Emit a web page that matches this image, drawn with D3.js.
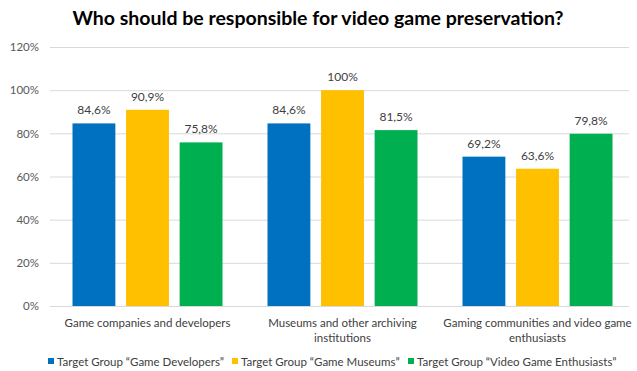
<!DOCTYPE html>
<html>
<head>
<meta charset="utf-8">
<script src="https://cdn.jsdelivr.net/npm/d3@7"></script>
<style>
  body { margin: 0; background: #fff; }
  svg { display: block; font-family: Lato, "Liberation Sans", sans-serif; }
</style>
</head>
<body>
<svg id="chart" width="637" height="371"></svg>
<script>
// Responsibility categories (x axis groups)
const categories = [
  ["Game companies and developers"],
  ["Museums and other archiving", "institutions"],
  ["Gaming communities and video game", "enthusiasts"]
];
// Respondent groups (series)
const seriesNames = [
  "Target Group \u201cGame Developers\u201d",
  "Target Group \u201cGame Museums\u201d",
  "Target Group \u201cVideo Game Enthusiasts\u201d"
];
const seriesColors = ["#0070C0", "#FFC000", "#00B050"];
// Share of respondents per category, one array per series
const developers = [84.6, 84.6, 69.2];
const museums = [90.9, 100, 63.6];
const enthusiasts = [75.8, 81.5, 79.8];
const values = [developers, museums, enthusiasts];
const yTicks = [0, 20, 40, 60, 80, 100, 120];

const svg = d3.select("#chart");
const plot = { left: 50, right: 635, top: 47, bottom: 306 };

const x0 = d3.scaleBand().domain(d3.range(categories.length))
  .range([plot.left, plot.right]).paddingInner(0).paddingOuter(0);
const x1 = d3.scaleBand().domain(d3.range(seriesNames.length))
  .range([0, x0.bandwidth()]).paddingInner(0.2).paddingOuter(0.42);
const y = d3.scaleLinear().domain([0, 120]).range([plot.bottom, plot.top]);

// Title
svg.append("text")
  .attr("x", 318).attr("y", 25)
  .attr("text-anchor", "middle")
  .attr("font-size", 19.5).attr("font-weight", "bold").attr("fill", "#000")
  .text("Who should be responsible for video game preservation?");

// Gridlines
svg.append("g").selectAll("line").data(yTicks).join("line")
  .attr("x1", plot.left).attr("x2", plot.right - 6)
  .attr("y1", d => y(d) + 0.5).attr("y2", d => y(d) + 0.5)
  .attr("stroke", "#D9D9D9").attr("stroke-width", 1);

// Y axis labels
const yAxis = d3.axisLeft(y).tickValues(yTicks).tickFormat(d => d + "%").tickSize(0).tickPadding(11);
const gy = svg.append("g").attr("transform", `translate(${plot.left},0)`).call(yAxis);
gy.select(".domain").remove();
gy.selectAll("text").attr("font-size", 11.5).attr("fill", "#595959")
  .attr("font-family", "Lato, sans-serif");

// Bars
const groups = svg.append("g").selectAll("g").data(categories).join("g")
  .attr("transform", (d, i) => `translate(${x0(i)},0)`);

groups.each(function(cat, ci) {
  const g = d3.select(this);
  const rows = values.map((arr, si) => ({ si, v: arr[ci] }));
  g.selectAll("rect").data(rows).join("rect")
    .attr("x", d => x1(d.si))
    .attr("width", x1.bandwidth())
    .attr("y", d => y(d.v))
    .attr("height", d => y(0) - y(d.v))
    .attr("fill", d => seriesColors[d.si]);
  g.selectAll("text.val").data(rows).join("text")
    .attr("class", "val")
    .attr("x", d => x1(d.si) + x1.bandwidth() / 2)
    .attr("y", d => y(d.v) - 9)
    .attr("text-anchor", "middle")
    .attr("font-size", 12).attr("fill", "#404040")
    .text(d => d3.format(".1f")(d.v).replace(".", ",").replace(",0", "") + "%");
});

// Category labels
svg.append("g").selectAll("text").data(categories).join("text")
  .attr("text-anchor", "middle")
  .attr("font-size", 11.5).attr("fill", "#404040")
  .attr("transform", (d, i) => `translate(${x0(i) + x0.bandwidth() / 2},327)`)
  .each(function(lines) {
    d3.select(this).selectAll("tspan").data(lines).join("tspan")
      .attr("x", 0).attr("dy", (d, i) => i === 0 ? 0 : 14.5).text(d => d);
  });

// Legend
const legend = svg.append("g").attr("transform", "translate(0,366)");
const legendX = [48, 232, 408];
seriesNames.forEach((name, i) => {
  const lg = legend.append("g").attr("transform", `translate(${legendX[i]},0)`);
  lg.append("rect").attr("x", 0).attr("y", -8).attr("width", 6).attr("height", 6)
    .attr("fill", seriesColors[i]);
  lg.append("text").attr("x", 9).attr("y", 0)
    .attr("font-size", 11.5).attr("fill", "#404040").text(name);
});
</script>
</body>
</html>
